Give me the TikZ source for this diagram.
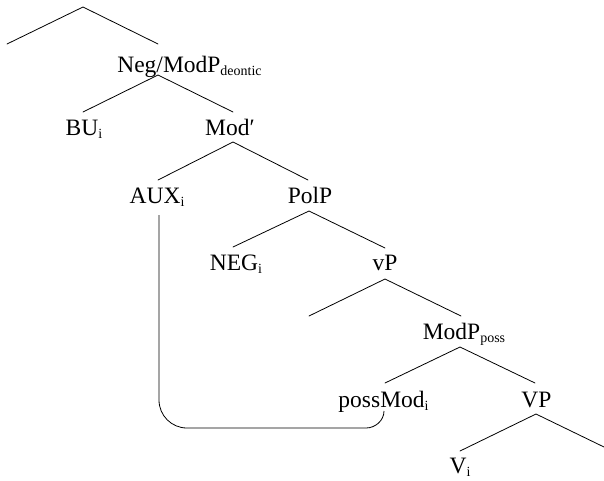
\documentclass[tikz,border=0pt]{standalone}
\usepackage{fontspec}
\setmainfont{Liberation Serif}
% lowered small index / feature subscript
\newcommand{\idx}[1]{\raisebox{-3.5pt}{\fontsize{14}{14}\selectfont #1}}
\begin{document}
\begin{tikzpicture}[x=1pt,y=-1pt,
  lbl/.style={anchor=base, inner sep=0pt, font=\fontsize{23.5}{28}\selectfont},
  branch/.style={line width=0.8pt, line cap=round},
  chain/.style={line width=0.8pt}]
\useasboundingbox (0,0) rectangle (604,480);

% category labels
\node[lbl] (neg)   at (189.5,72)  {Neg/ModP\idx{deontic}};
\node[lbl] (bu)    at (84,135)    {BU\idx{i}};
\node[lbl] (modb)  at (230,135)   {Mod′};
\node[lbl] (aux)   at (157,203)   {AUX\idx{i}};
\node[lbl] (pol)   at (310,203)   {PolP};
\node[lbl] (negi)  at (236,270)   {NEG\idx{i}};
\node[lbl] (vp)    at (385,270)   {vP};
\node[lbl] (modp)  at (464,339)   {ModP\idx{poss}};
\node[lbl] (poss)  at (383.5,407) {possMod\idx{i}};
\node[lbl] (VP)    at (536.5,407) {VP};
\node[lbl] (vi)    at (460,473)   {V\idx{i}};

% attachment points of the branches
\coordinate (root)  at (83,7);
\coordinate (rootL) at (7,44);
\coordinate (negT)  at (158,44);
\coordinate (negB)  at (158,75);
\coordinate (buT)   at (83,112);
\coordinate (modbT) at (233,112);
\coordinate (modbB) at (233,142);
\coordinate (auxT)  at (158,180);
\coordinate (auxB)  at (159,215);
\coordinate (polT)  at (308,180);
\coordinate (polB)  at (309,211);
\coordinate (negiT) at (233,247);
\coordinate (vpT)   at (385,248);
\coordinate (vpB)   at (385,279);
\coordinate (vL)    at (309,316);
\coordinate (modpT) at (461,316);
\coordinate (modpB) at (460,347);
\coordinate (possT) at (385,383);
\coordinate (possB) at (384,411);
\coordinate (VPT)   at (535,383);
\coordinate (VPB)   at (536,414);
\coordinate (viT)   at (460,451);
\coordinate (VR)    at (604,447);

% tree branches
\draw[branch] (rootL) -- (root) -- (negT);
\draw[branch] (buT) -- (negB) -- (modbT);
\draw[branch] (auxT) -- (modbB) -- (polT);
\draw[branch] (negiT) -- (polB) -- (vpT);
\draw[branch] (vL) -- (vpB) -- (modpT);
\draw[branch] (possT) -- (modpB) -- (VPT);
\draw[branch] (viT) -- (VPB) -- (VR);

% head-movement chain from possMod up to AUX
\draw[chain] (auxB) -- (159,400)
  .. controls (159,415.5) and (171.5,428) .. (187,428)
  -- (366,428)
  .. controls (375.4,428) and (384,420.4) .. (possB);
\end{tikzpicture}
\end{document}
